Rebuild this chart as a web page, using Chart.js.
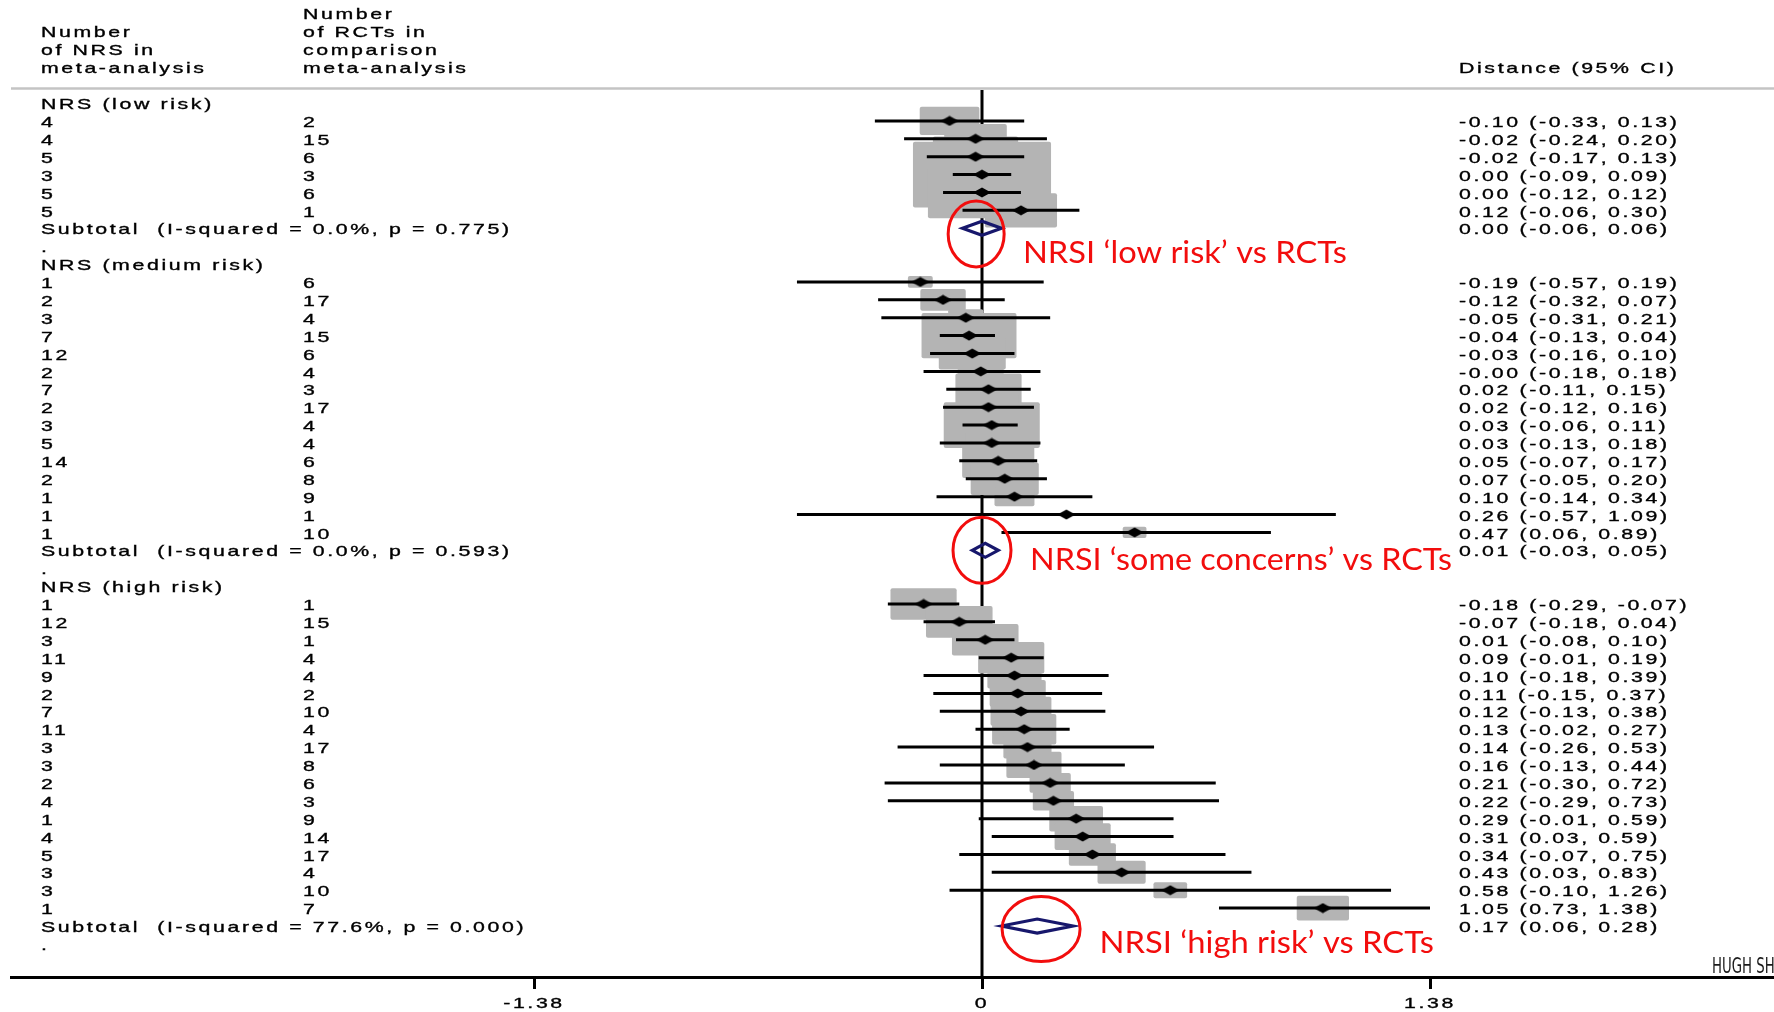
<!DOCTYPE html>
<html>
<head>
<meta charset="utf-8">
<script src="https://cdn.jsdelivr.net/npm/chart.js@4.4.1/dist/chart.umd.min.js"></script>
<style>
  html, body { margin: 0; padding: 0; background: #fff; }
  #wrap { width: 1774px; height: 1012px; }
</style>
</head>
<body>
<div id="wrap"><canvas id="forest" width="1774" height="1012"></canvas></div>
<script>
// Forest plot data
const groupLabels = ['NRS (low risk)', 'NRS (medium risk)', 'NRS (high risk)'];

const lowNrs = [4, 4, 5, 3, 5, 5];
const lowRct = [2, 15, 6, 3, 6, 1];
const lowEst = [-0.10, -0.02, -0.02, 0.00, 0.00, 0.12];
const lowLo = [-0.33, -0.24, -0.17, -0.09, -0.12, -0.06];
const lowHi = [0.13, 0.20, 0.13, 0.09, 0.12, 0.30];
const lowWeight = [6.9, 7.6, 14.1, 37.0, 22.7, 10.1];

const medNrs = [1, 2, 3, 7, 12, 2, 7, 2, 3, 5, 14, 2, 1, 1, 1];
const medRct = [6, 17, 4, 15, 6, 4, 3, 17, 4, 4, 6, 8, 9, 1, 10];
const medEst = [-0.19, -0.12, -0.05, -0.04, -0.03, -0.004, 0.02, 0.02, 0.03, 0.03, 0.05, 0.07, 0.10, 0.26, 0.47];
const medLo = [-0.57, -0.32, -0.31, -0.13, -0.16, -0.18, -0.11, -0.12, -0.06, -0.13, -0.07, -0.05, -0.14, -0.57, 0.06];
const medHi = [0.19, 0.07, 0.21, 0.04, 0.10, 0.18, 0.15, 0.16, 0.11, 0.18, 0.17, 0.20, 0.34, 1.09, 0.89];
const medWeight = [1.2, 4.0, 2.4, 17.5, 8.7, 4.1, 8.5, 6.8, 17.9, 5.5, 10.1, 9.0, 3.1, 0.2, 1.1];

const highNrs = [1, 12, 3, 11, 9, 2, 7, 11, 3, 3, 2, 4, 1, 4, 5, 3, 3, 1];
const highRct = [1, 15, 1, 4, 4, 2, 10, 4, 17, 8, 6, 3, 9, 14, 17, 4, 10, 7];
const highEst = [-0.18, -0.07, 0.01, 0.09, 0.10, 0.11, 0.12, 0.13, 0.14, 0.16, 0.21, 0.22, 0.29, 0.31, 0.34, 0.43, 0.58, 1.05];
const highLo = [-0.29, -0.18, -0.08, -0.01, -0.18, -0.15, -0.13, -0.02, -0.26, -0.13, -0.30, -0.29, -0.01, 0.03, -0.07, 0.03, -0.10, 0.73];
const highHi = [-0.07, 0.04, 0.10, 0.19, 0.39, 0.37, 0.38, 0.27, 0.53, 0.44, 0.72, 0.73, 0.59, 0.59, 0.75, 0.83, 1.26, 1.38];
const highWeight = [8.5, 8.6, 8.6, 8.5, 5.7, 6.1, 7.2, 8.0, 4.5, 5.9, 3.3, 3.3, 5.6, 6.1, 4.3, 4.5, 2.2, 5.3];

const subEst = [0.00, 0.01, 0.17];
const subLo = [-0.06, -0.03, 0.06];
const subHi = [0.06, 0.05, 0.28];
const subI2 = [0.0, 0.0, 77.6];
const subP = [0.775, 0.593, 0.000];

const xTicks = [-1.38, 0, 1.38];

const annotationTexts = ['NRSI \u2018low risk\u2019 vs RCTs', 'NRSI \u2018some concerns\u2019 vs RCTs', 'NRSI \u2018high risk\u2019 vs RCTs'];

// layout
const PX_PER_UNIT = 448 / 1.38;
const ZERO_PX = 982, LEFT_PX = 11, RIGHT_PX = 1774;
const xMin = -(ZERO_PX - LEFT_PX) / PX_PER_UNIT;
const xMax = (RIGHT_PX - ZERO_PX) / PX_PER_UNIT;
const COL1 = 41, COL2 = 303, COL3 = 1459;

const groups = [
    { nrs: lowNrs, rct: lowRct, est: lowEst, lo: lowLo, hi: lowHi, w: lowWeight },
    { nrs: medNrs, rct: medRct, est: medEst, lo: medLo, hi: medHi, w: medWeight },
    { nrs: highNrs, rct: highRct, est: highEst, lo: highLo, hi: highHi, w: highWeight }
];

// assign a row number to every line of the table
const studies = [];
const labelRows = [];
const subRows = [];
let row = 0;
groups.forEach((g, gi) => {
    labelRows.push({ row: row++, text: groupLabels[gi] });
    g.est.forEach((e, i) => {
        studies.push({ row: row++, nrs: g.nrs[i], rct: g.rct[i], est: e, lo: g.lo[i], hi: g.hi[i], w: g.w[i] });
    });
    subRows.push({ row: row++, gi: gi });
    labelRows.push({ row: row++, text: '.' });
});

const annotations = [
    { x0: 0.126, x1: 1.124, row: 8.94, ex: -0.018, erow: 7.32, rx: 28, ry: 33 },
    { x0: 0.148, x1: 1.448, row: 26.1, ex: 0.0, erow: 25.0, rx: 29, ry: 33 },
    { x0: 0.362, x1: 1.392, row: 47.5, ex: 0.182, erow: 46.17, rx: 39, ry: 32.5 }
];

function ci(e, l, h) {
    return e.toFixed(2) + ' (' + l.toFixed(2) + ', ' + h.toFixed(2) + ')';
}

function stretchText(ctx, str, x, y, align) {
    ctx.save();
    ctx.font = '15px "Liberation Sans", Arial, sans-serif';
    ctx.letterSpacing = '1.85px';
    ctx.textBaseline = 'middle';
    ctx.textAlign = 'left';
    ctx.fillStyle = '#000';
    ctx.strokeStyle = '#000';
    ctx.lineWidth = 0.35;
    const w = ctx.measureText(str).width;
    ctx.translate(x, y);
    ctx.scale(1.42, 1);
    const dx = align === 'center' ? -w / 2 : 0;
    ctx.fillText(str, dx, 0);
    ctx.strokeText(str, dx, 0);
    ctx.restore();
}

// small black diamond used as the point marker
const marker = document.createElement('canvas');
marker.width = 18; marker.height = 11;
(function() {
    const m = marker.getContext('2d');
    m.fillStyle = '#000';
    m.beginPath();
    m.moveTo(0, 5.5); m.lineTo(9, 0.5); m.lineTo(18, 5.5); m.lineTo(9, 10.5);
    m.closePath(); m.fill();
})();

const forestPlugin = {
    id: 'forest',
    beforeDatasetsDraw(chart) {
        const ctx = chart.ctx, xs = chart.scales.x, ys = chart.scales.y;
        ctx.save();
        // header rule
        ctx.strokeStyle = '#c4c4c4';
        ctx.lineWidth = 2.5;
        ctx.beginPath(); ctx.moveTo(LEFT_PX, 88.5); ctx.lineTo(RIGHT_PX, 88.5); ctx.stroke();
        // line of no difference
        const x0 = xs.getPixelForValue(0);
        ctx.strokeStyle = '#000';
        ctx.lineWidth = 3;
        ctx.beginPath(); ctx.moveTo(x0, 90); ctx.lineTo(x0, chart.chartArea.bottom); ctx.stroke();
        // weight boxes
        ctx.fillStyle = '#b4b4b4';
        studies.forEach(s => {
            const cx = xs.getPixelForValue(s.est), cy = ys.getPixelForValue(s.row);
            const bw = Math.sqrt(s.w) * 22.7, bh = bw / 2.1;
            ctx.beginPath();
            if (ctx.roundRect) ctx.roundRect(cx - bw / 2, cy - bh / 2, bw, bh, 2);
            else ctx.rect(cx - bw / 2, cy - bh / 2, bw, bh);
            ctx.fill();
        });
        // confidence intervals
        ctx.strokeStyle = '#000';
        ctx.lineWidth = 3;
        studies.forEach(s => {
            const cy = ys.getPixelForValue(s.row);
            ctx.beginPath();
            ctx.moveTo(xs.getPixelForValue(s.lo), cy);
            ctx.lineTo(xs.getPixelForValue(s.hi), cy);
            ctx.stroke();
        });
        ctx.restore();
    },
    afterDatasetsDraw(chart) {
        const ctx = chart.ctx, xs = chart.scales.x, ys = chart.scales.y;
        ctx.save();
        // subtotal diamonds
        ctx.strokeStyle = '#17176c';
        ctx.lineWidth = 3.2;
        ctx.lineJoin = 'miter';
        subRows.forEach(r => {
            const cy = ys.getPixelForValue(r.row);
            const l = xs.getPixelForValue(subLo[r.gi]), e = xs.getPixelForValue(subEst[r.gi]), h = xs.getPixelForValue(subHi[r.gi]);
            ctx.beginPath();
            ctx.moveTo(l, cy); ctx.lineTo(e, cy - 7); ctx.lineTo(h, cy); ctx.lineTo(e, cy + 7);
            ctx.closePath(); ctx.stroke();
        });
        ctx.restore();

        // column headers
        stretchText(ctx, 'Number', COL1, 33);
        stretchText(ctx, 'of NRS in', COL1, 51);
        stretchText(ctx, 'meta-analysis', COL1, 69);
        stretchText(ctx, 'Number', COL2, 15);
        stretchText(ctx, 'of RCTs in', COL2, 33);
        stretchText(ctx, 'comparison', COL2, 51);
        stretchText(ctx, 'meta-analysis', COL2, 69);
        stretchText(ctx, 'Distance (95% CI)', COL3, 69);

        // table text
        labelRows.forEach(r => stretchText(ctx, r.text, COL1, ys.getPixelForValue(r.row) + 2));
        studies.forEach(s => {
            const cy = ys.getPixelForValue(s.row) + 2;
            stretchText(ctx, String(s.nrs), COL1, cy);
            stretchText(ctx, String(s.rct), COL2, cy);
            stretchText(ctx, ci(s.est, s.lo, s.hi), COL3, cy);
        });
        subRows.forEach(r => {
            const cy = ys.getPixelForValue(r.row) + 2, gi = r.gi;
            stretchText(ctx, 'Subtotal  (I-squared = ' + subI2[gi].toFixed(1) + '%, p = ' + subP[gi].toFixed(3) + ')', COL1, cy);
            stretchText(ctx, ci(subEst[gi], subLo[gi], subHi[gi]), COL3, cy);
        });

        // x tick labels
        xTicks.forEach(v => stretchText(ctx, String(v), xs.getPixelForValue(v), 1004, 'center'));

        // red call-outs
        ctx.save();
        annotations.forEach((a, i) => {
            ctx.strokeStyle = '#f20d0d';
            ctx.lineWidth = 3;
            ctx.beginPath();
            ctx.ellipse(xs.getPixelForValue(a.ex), ys.getPixelForValue(a.erow), a.rx, a.ry, 0, 0, Math.PI * 2);
            ctx.stroke();

            ctx.font = '31px Lato, "Noto Sans", sans-serif';
            ctx.fillStyle = '#f20d0d';
            ctx.textBaseline = 'alphabetic';
            const px0 = xs.getPixelForValue(a.x0), px1 = xs.getPixelForValue(a.x1);
            const w = ctx.measureText(annotationTexts[i]).width;
            ctx.save();
            ctx.translate(px0, ys.getPixelForValue(a.row));
            ctx.scale((px1 - px0) / w, 1);
            ctx.fillText(annotationTexts[i], 0, 0);
            ctx.restore();
        });
        ctx.restore();

        // credit, cut off at the right edge
        ctx.save();
        ctx.font = '21px "Liberation Sans Narrow", "DejaVu Sans Condensed", sans-serif';
        ctx.fillStyle = '#1a1a1a';
        ctx.textBaseline = 'alphabetic';
        const hw = ctx.measureText('HUGH').width;
        ctx.translate(1712, 973);
        ctx.scale(40 / hw, 1);
        ctx.fillText('HUGH SHARMA WADDINGTON', 0, 0);
        ctx.restore();
    }
};

new Chart(document.getElementById('forest'), {
    type: 'scatter',
    data: {
        datasets: [{
            data: studies.map(s => ({ x: s.est, y: s.row })),
            pointStyle: marker,
            pointRadius: 9,
            pointHoverRadius: 9,
            showLine: false
        }]
    },
    options: {
        responsive: false,
        animation: false,
        devicePixelRatio: 1,
        layout: { autoPadding: false, padding: { left: LEFT_PX, right: 0, top: 88, bottom: 0 } },
        plugins: {
            legend: { display: false },
            tooltip: { enabled: false }
        },
        scales: {
            x: {
                type: 'linear',
                position: 'bottom',
                min: xMin,
                max: xMax,
                afterBuildTicks: function(axis) {
                    axis.ticks = xTicks.map(v => ({ value: v }));
                },
                afterFit: function(axis) {
                    axis.height = 35;
                    axis.paddingLeft = 0;
                    axis.paddingRight = 0;
                },
                ticks: { display: false },
                grid: {
                    display: true,
                    drawOnChartArea: false,
                    drawTicks: true,
                    tickLength: 12,
                    color: '#000',
                    lineWidth: 3
                },
                border: { display: true, color: '#000', width: 3 }
            },
            y: {
                type: 'linear',
                reverse: true,
                min: -0.84,
                max: 48.85,
                display: false
            }
        }
    },
    plugins: [forestPlugin]
});
</script>
</body>
</html>
